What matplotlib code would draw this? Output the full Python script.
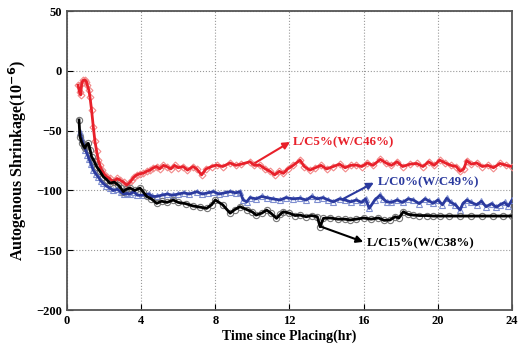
import matplotlib
matplotlib.use("Agg")
import matplotlib.pyplot as plt

# ---- data ----
red_x = [0.60,0.68,0.74,0.80,0.87,0.97,1.05,1.10,1.18,1.24,
         1.33,1.42,1.51,1.60,1.69,1.78,1.87,2.00,2.14,2.30,
         2.50,2.70,2.86,3.05,3.22,3.35,3.49,3.60,3.76,3.95,
         4.12,4.30,4.48,4.66,4.84,5.00,5.20,5.38,5.60,5.80,
         6.00,6.27,6.50,6.80,7.00,7.26,7.50,7.80,8.07,8.40,
         8.79,9.10,9.40,9.87,10.10,10.40,10.70,10.95,11.20,11.45,
         11.67,11.90,12.20,12.57,12.80,13.10,13.40,13.70,14.00,14.36,
         14.70,15.00,15.30,15.60,15.90,16.20,16.50,16.90,17.20,17.50,
         17.80,18.10,18.50,18.86,19.20,19.50,19.80,20.10,20.40,20.70,
         21.00,21.20,21.40,21.56,21.80,22.10,22.40,22.70,23.00,23.35,
         23.70,24.00]
red_y = [-12,-18,-20,-10,-8,-7.7,-9,-12,-16,-21.6,
         -33,-46.7,-59,-67,-74.6,-79,-83,-86,-88.5,-90,
         -92.7,-90,-91.3,-93,-95.5,-94,-91.3,-89,-87,-86,
         -85.5,-84,-83,-81,-80,-82,-79,-80,-82,-79,
         -81,-80,-83,-80,-82,-87,-82,-80,-78.8,-80,
         -77,-79,-78,-76,-79,-78.8,-82,-84,-87,-84,
         -85.7,-82,-79,-74.6,-80,-83,-81,-79,-82,-80,
         -78,-81,-79,-78.8,-80,-77,-79,-74,-77,-79,
         -76,-80,-78,-77.4,-80,-76,-79,-74.6,-77,-79,
         -80,-84,-82,-75,-78,-77,-80,-79,-81,-77.4,
         -79,-80]

blue_x = [0.70,0.80,0.90,1.00,1.10,1.20,1.30,1.42,1.55,1.70,
          1.83,1.96,2.10,2.30,2.50,2.70,2.90,3.05,3.22,3.40,
          3.60,3.80,4.12,4.40,4.60,4.84,5.10,5.40,5.70,6.00,
          6.30,6.60,7.00,7.30,7.60,7.90,8.20,8.50,8.80,9.10,
          9.33,9.50,9.70,9.87,10.20,10.50,10.77,11.10,11.50,11.80,
          12.20,12.57,12.90,13.20,13.50,13.80,14.10,14.37,14.70,15.00,
          15.30,15.60,15.90,16.10,16.30,16.60,16.88,17.05,17.24,17.50,
          17.80,18.10,18.40,18.68,19.00,19.30,19.55,19.75,20.00,20.25,
          20.48,20.70,20.95,21.20,21.35,21.56,21.80,22.10,22.35,22.60,
          22.90,23.15,23.35,23.60,23.80,24.00]
blue_y = [-51,-57,-62,-66,-70,-74,-78,-83,-86,-89,
          -92,-94,-96,-98,-100,-99,-101,-103,-102.5,-103,
          -101,-104,-104,-103,-105,-105,-104,-103,-104,-103,
          -102,-103,-101,-103,-102,-101,-103,-102,-101,-102,
          -101,-108,-109.5,-106,-107,-105,-106,-107,-108,-106,
          -107,-106.5,-108,-105,-107,-106,-108,-109.5,-107,-108,
          -109.5,-108,-110,-107,-115,-108,-104,-107,-109.5,-110,
          -108,-110,-107,-108,-111,-107,-109,-110.7,-108,-112,
          -106.5,-110,-112,-116.4,-111,-108,-110,-112,-109,-113.6,
          -111,-114,-112,-110,-113,-108]

black_x = [0.65,0.70,0.80,0.90,0.97,1.05,1.15,1.25,1.33,1.45,
           1.60,1.78,1.96,2.15,2.32,2.55,2.77,2.90,3.04,3.20,
           3.40,3.65,3.94,4.10,4.30,4.55,4.84,5.10,5.40,5.73,
           6.00,6.40,6.80,7.20,7.53,7.80,8.00,8.40,8.80,9.05,
           9.33,9.70,10.00,10.20,10.50,10.77,11.00,11.30,11.50,11.67,
           12.00,12.30,12.57,12.90,13.20,13.50,13.65,13.83,14.20,14.60,
           15.00,15.26,15.60,16.00,16.40,16.80,17.10,17.42,17.70,17.90,
           18.14,18.40,18.68,19.00,19.40,19.75,20.10,20.60,21.20,21.80,
           22.40,23.00,23.50,24.00]
black_y = [-41,-55,-60,-63,-64.6,-62,-60.6,-66,-71.8,-75,
           -80,-84,-88.5,-91,-94,-93,-95.5,-98,-101,-99,
           -98,-100,-98,-101,-105,-107,-110.8,-109,-110,-108,
           -110,-111,-113,-114,-115,-112,-108,-112,-119,-116,
           -113.6,-116,-118,-120.6,-119,-116.4,-119,-123.3,-120,-117.8,
           -119,-121,-120.6,-122,-121,-122,-130.3,-123.3,-123,-124,
           -124,-124.7,-124,-123,-124,-123,-125,-124.7,-122,-123,
           -117.8,-120,-120.6,-121,-121,-121.4,-121.4,-121.4,-121.4,-121.4,
           -121.4,-121.4,-121.4,-121.4]

labels = ["L/C5%(W/C46%)", "L/C0%(W/C49%)", "L/C15%(W/C38%)"]
x_ticks = [0, 4, 8, 12, 16, 20, 24]
y_ticks = [-200, -150, -100, -50, 0, 50]

plt.rcParams['font.family'] = ['Liberation Serif', 'DejaVu Serif']
plt.rcParams['font.weight'] = 'bold'

fig = plt.figure(figsize=(5.23, 3.58), dpi=100)
ax = fig.add_axes([0.128, 0.134, 0.851, 0.835])

series = [
    (red_x, red_y, '#e8202a', '#f28a8a', 'D', 3.5),
    (blue_x, blue_y, '#2b3a9e', '#7f8fd0', '^', 4.5),
    (black_x, black_y, '#000000', '#777777', 'o', 4.5),
]
for xs, ys, lc, mc, mk, ms in series:
    ax.plot(xs, ys, linestyle='none', marker=mk, markersize=ms,
            markerfacecolor='none', markeredgecolor=mc, markeredgewidth=0.8,
            zorder=3)
    ax.plot(xs, ys, color=lc, lw=2.0, zorder=4)

ax.set_xlim(0, 24)
ax.set_ylim(-200, 50)
ax.set_xticks(x_ticks)
ax.set_yticks(y_ticks)
ax.grid(True, linestyle=':', color='#999999', lw=0.8)
ax.tick_params(direction='in', length=4, labelsize=9, width=0.8)
for lab in ax.get_xticklabels() + ax.get_yticklabels():
    lab.set_fontweight('bold')
for s in ax.spines.values():
    s.set_color('#555555')
    s.set_linewidth(1.3)

ax.set_xlabel("Time since Placing(hr)", fontsize=10, fontweight='bold', labelpad=2)
ax.set_ylabel("Autogenous Shrinkage(10$^{-6}$)", fontsize=11.5, fontweight='bold', labelpad=5)

ann = [
    (labels[0], (10.14, -77), (12.03, -59.5), (12.2, -60), '#e8202a'),
    (labels[1], (14.9, -107), (16.55, -93.5), (16.75, -93.5), '#2b3a9e'),
    (labels[2], (13.65, -130), (15.98, -143), (16.15, -144), '#000000'),
]
for txt, tail, head, tpos, c in ann:
    ax.annotate('', xy=head, xytext=tail,
                arrowprops=dict(arrowstyle='-|>', color=c, lw=1.5,
                                mutation_scale=10, shrinkA=0, shrinkB=0),
                zorder=6)
    ax.text(tpos[0], tpos[1], txt, color=c, fontsize=9.3, fontweight='bold',
            va='center', ha='left', zorder=6)

fig.savefig("out.png", dpi=100)
